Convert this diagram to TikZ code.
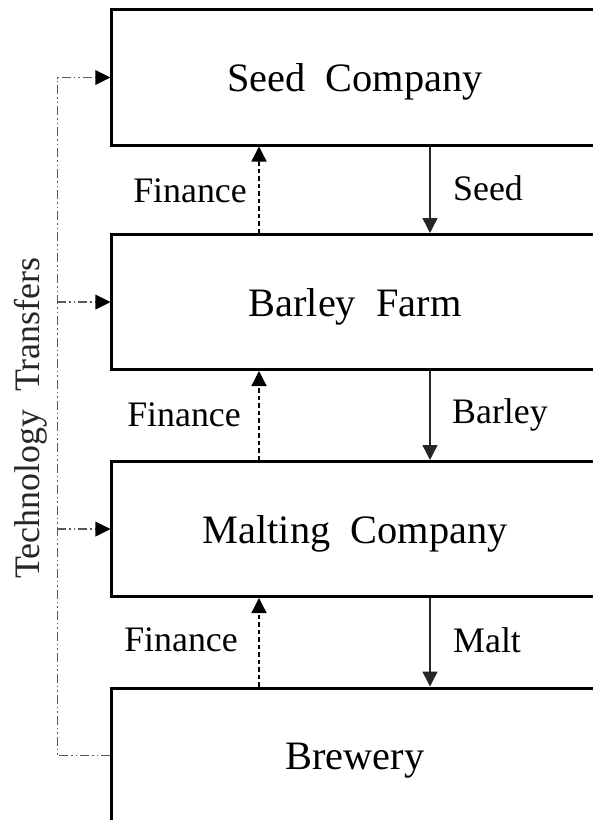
\documentclass[tikz,border=0pt]{standalone}
\usepackage{fontspec}
\setmainfont{Liberation Serif}
\usetikzlibrary{arrows.meta,calc}
\begin{document}
\begin{tikzpicture}[x=1bp,y=-1bp,
  stagebox/.style={draw=black,line width=3bp,rectangle,minimum width=486bp,minimum height=135bp,inner sep=0pt,text height=28bp,text depth=0bp,font=\fontsize{40.5}{48}\selectfont},
  flowlabel/.style={font=\fontsize{36}{43}\selectfont,inner sep=0pt},
  tip/.style={-{Triangle[length=15bp,width=15bp]}},
  goods/.style={draw=black!85,line width=1.4bp,tip},
  money/.style={draw=black,line width=1.4bp,dash pattern=on 4.5bp off 3bp,tip},
  tech/.style={draw=black!65,line width=1.6bp,dash pattern=on 9bp off 3bp on 1.5bp off 3bp on 1.5bp off 3bp}]
\useasboundingbox (0,0) rectangle (593,820);
\clip (0,0) rectangle (593,820);
\fill[white] (0,0) rectangle (593,820);
\node[stagebox] (seed) at (355,77.5) {Seed\ \ Company};
\node[stagebox] (barley) at (355,302) {Barley\ \ Farm};
\node[stagebox] (malt) at (355,529) {Malting\ \ Company};
\node[stagebox] (brew) at (355,755.5) {Brewery};
% goods flow
\coordinate (gx) at (430,0);
\draw[goods] (gx |- seed.south) -- (gx |- barley.north);
\draw[goods] (gx |- barley.south) -- (gx |- malt.north);
\draw[goods] (gx |- malt.south) -- (gx |- brew.north);
\node[flowlabel,anchor=west] (l1) at (453,188) {Seed};
\node[flowlabel,anchor=west] (l2) at (452,415) {Barley};
\node[flowlabel,anchor=west] (l3) at (453,640) {Malt};
% finance flow
\coordinate (fx) at (259,0);
\draw[money] (fx |- barley.north) -- (fx |- seed.south);
\draw[money] (fx |- malt.north) -- (fx |- barley.south);
\draw[money] (fx |- brew.north) -- (fx |- malt.south);
\node[flowlabel,anchor=east] (f1) at (247,191) {Finance};
\node[flowlabel,anchor=east] (f2) at (241,415) {Finance};
\node[flowlabel,anchor=east] (f3) at (238,640) {Finance};
% technology transfers
\coordinate (spine) at ($(brew.west)+(-53,0)$);
\draw[tech] (brew.west) -- (spine) |- ($(seed.west)+(-14,0)$);
\draw[tech] (spine |- barley.west) -- ($(barley.west)+(-14,0)$);
\draw[tech] (spine |- malt.west) -- ($(malt.west)+(-14,0)$);
\draw[draw=none,fill=black] (seed.west) -- ++(-15,-7.5) -- ++(0,15) -- cycle;
\draw[draw=none,fill=black] (barley.west) -- ++(-15,-7.5) -- ++(0,15) -- cycle;
\draw[draw=none,fill=black] (malt.west) -- ++(-15,-7.5) -- ++(0,15) -- cycle;
\node[flowlabel,rotate=90,text=black!85] (tt) at (31,418) {Technology\ \ Transfers};
\end{tikzpicture}
\end{document}
